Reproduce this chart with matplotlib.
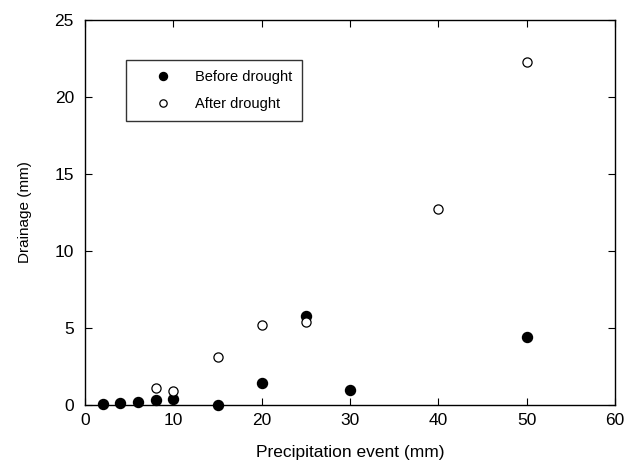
import numpy as np
import matplotlib
matplotlib.use('Agg')
import matplotlib.pyplot as plt

plt.rcParams['font.family'] = ['Liberation Sans', 'DejaVu Sans']

# Before drought (filled)
before_x = [2, 4, 6, 8, 10, 15, 20, 25, 30, 50]
before_y = [0.05, 0.15, 0.2, 0.3, 0.4, 0.0, 1.45, 5.75, 0.95, 4.4]

# After drought (open)
after_x = [8, 10, 15, 20, 25, 40, 50]
after_y = [1.1, 0.9, 3.1, 5.2, 5.4, 12.7, 22.3]

fig = plt.figure(figsize=(6.37, 4.68), dpi=100)
ax = fig.add_axes([85/637, 1-405/468, (615-85)/637, (405-20)/468])

ax.plot(before_x, before_y, 'o', color='black', markersize=7.2, label='Before drought',
        clip_on=False, zorder=3)
ax.plot(after_x, after_y, 'o', markerfacecolor='white', markeredgecolor='black',
        markersize=6.6, markeredgewidth=0.9, label='After drought', clip_on=False, zorder=3)

ax.set_xlim(0, 60)
ax.set_ylim(0, 25)
ax.set_xticks(np.arange(0, 61, 10))
ax.set_yticks(np.arange(0, 26, 5))
ax.tick_params(direction='in', top=True, right=True, labelsize=12.5, length=5)
ax.tick_params(axis='y', pad=8)
ax.tick_params(axis='x', pad=6)
for s in ax.spines.values():
    s.set_linewidth(1.0)

ax.set_xlabel('Precipitation event (mm)', fontsize=12.5, labelpad=12)
ax.set_ylabel('Drainage (mm)', fontsize=11, labelpad=16)

leg = ax.legend(loc='upper left', bbox_to_anchor=(41/530, (405-60)/385), fontsize=10.5,
                frameon=True, fancybox=False, borderpad=0.7, handletextpad=0.3,
                labelspacing=0.85, handlelength=3.7, borderaxespad=0, markerscale=0.8)
leg.get_frame().set_edgecolor('black')
leg.get_frame().set_linewidth(1.0)

plt.savefig('out.png', dpi=100)
